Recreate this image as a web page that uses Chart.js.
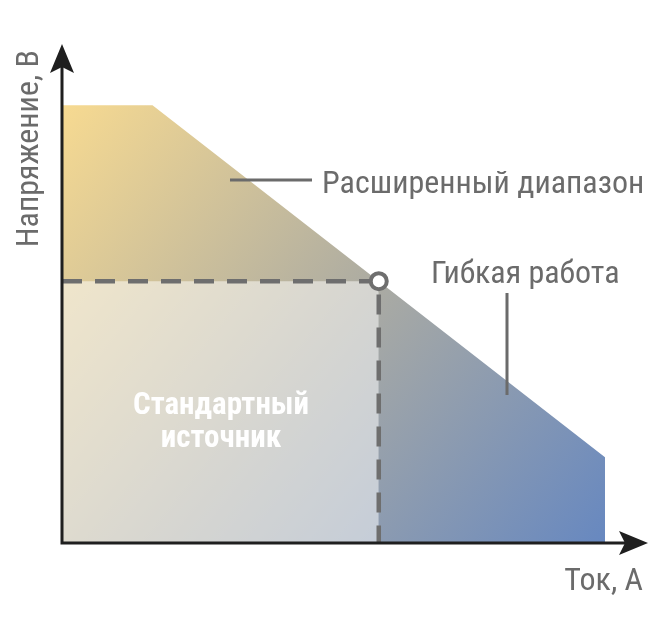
<!DOCTYPE html>
<html>
<head>
<meta charset="utf-8">
<script src="https://cdn.jsdelivr.net/npm/chart.js@4.4.0/dist/chart.umd.min.js"></script>
<style>
  html, body { margin: 0; padding: 0; background: #fff; }
  #wrap { width: 660px; height: 636px; }
</style>
</head>
<body>
<div id="wrap"><canvas id="chart"></canvas></div>
<script>
// envelope of the supply: current (A) vs voltage (V)
const currentPts = [0, 2, 7, 12];
const voltagePts = [9.95, 9.95, 5.95, 1.95];
// standard source corner
const stdCurrent = 7;
const stdVoltage = 5.95;
const axisMax = { x: 12.95, y: 11.34 };

const labels = {
  yTitle: "Напряжение, В",
  xTitle: "Ток, А",
  extended: "Расширенный диапазон",
  flexible: "Гибкая работа",
  standard: ["Стандартный", "источник"]
};

const FONT = "'Liberation Sans Narrow', 'Roboto Condensed', 'DejaVu Sans Condensed', Roboto, sans-serif";
const textGray = "#6b6b6b";
const dashGray = "#6e6e6e";

const envelope = currentPts.map((x, i) => ({ x: x, y: voltagePts[i] }));

function envelopeGradient(context) {
  const chart = context.chart;
  const xs = chart.scales.x, ys = chart.scales.y;
  if (!chart.chartArea) return "#ccc";
  const g = chart.ctx.createLinearGradient(
    xs.getPixelForValue(0), ys.getPixelForValue(voltagePts[0]),
    xs.getPixelForValue(currentPts[currentPts.length - 1]), ys.getPixelForValue(0)
  );
  g.addColorStop(0, "#f7da91");
  g.addColorStop(0.5, "#adaca2");
  g.addColorStop(1, "#6788c0");
  return g;
}

const decorPlugin = {
  id: "decor",
  afterDatasetsDraw(chart) {
    const ctx = chart.ctx;
    const xs = chart.scales.x, ys = chart.scales.y;
    const x0 = xs.getPixelForValue(0), y0 = ys.getPixelForValue(0);
    const xEnd = chart.chartArea.right, yEnd = chart.chartArea.top;

    ctx.save();
    // axes
    ctx.strokeStyle = "#1f1f1f";
    ctx.fillStyle = "#1f1f1f";
    ctx.lineWidth = 3;
    ctx.beginPath();
    ctx.moveTo(x0, y0 + 1.5);
    ctx.lineTo(x0, yEnd + 20);
    ctx.moveTo(x0 - 1.5, y0);
    ctx.lineTo(xEnd - 20, y0);
    ctx.stroke();
    // arrow heads
    ctx.beginPath();
    ctx.moveTo(x0, yEnd);
    ctx.lineTo(x0 + 12, yEnd + 29);
    ctx.lineTo(x0, yEnd + 23);
    ctx.lineTo(x0 - 12, yEnd + 29);
    ctx.closePath();
    ctx.fill();
    ctx.beginPath();
    ctx.moveTo(xEnd, y0);
    ctx.lineTo(xEnd - 29, y0 - 12);
    ctx.lineTo(xEnd - 23, y0);
    ctx.lineTo(xEnd - 29, y0 + 12);
    ctx.closePath();
    ctx.fill();

    // leader lines
    ctx.strokeStyle = textGray;
    ctx.lineWidth = 3;
    ctx.beginPath();
    ctx.moveTo(230, 180);
    ctx.lineTo(312, 180);
    ctx.moveTo(507, 293);
    ctx.lineTo(507, 395);
    ctx.stroke();

    // texts
    ctx.fillStyle = textGray;
    ctx.font = "32px " + FONT;
    ctx.textBaseline = "alphabetic";
    ctx.textAlign = "left";
    ctx.fillText(labels.extended, 322, 193);
    ctx.fillText(labels.flexible, 431, 283);
    ctx.textAlign = "right";
    ctx.fillText(labels.xTitle, 643, 590);

    ctx.save();
    ctx.translate(38, 50);
    ctx.rotate(-Math.PI / 2);
    ctx.textAlign = "right";
    ctx.fillText(labels.yTitle, 0, 0);
    ctx.restore();

    ctx.fillStyle = "#ffffff";
    ctx.font = "bold 31px " + FONT;
    ctx.textAlign = "center";
    ctx.fillText(labels.standard[0], 221, 414);
    ctx.fillText(labels.standard[1], 221, 447);
    ctx.restore();
  }
};

new Chart(document.getElementById("chart"), {
  type: "scatter",
  data: {
    datasets: [
      {
        label: "corner",
        data: [{ x: stdCurrent, y: stdVoltage }],
        pointRadius: 8,
        pointBackgroundColor: "#ffffff",
        pointBorderColor: dashGray,
        pointBorderWidth: 4,
        order: 0
      },
      {
        label: "standard edge",
        data: [{ x: 0, y: stdVoltage }, { x: stdCurrent, y: stdVoltage }, { x: stdCurrent, y: 0 }],
        showLine: true,
        borderColor: dashGray,
        borderWidth: 4.5,
        borderDash: [20, 13],
        pointRadius: 0,
        fill: false,
        order: 1
      },
      {
        label: "standard",
        data: [{ x: 0, y: stdVoltage }, { x: stdCurrent, y: stdVoltage }],
        showLine: true,
        borderWidth: 0,
        pointRadius: 0,
        fill: "origin",
        backgroundColor: "rgba(255,255,255,0.5)",
        order: 2
      },
      {
        label: "extended",
        data: envelope,
        showLine: true,
        borderWidth: 0,
        pointRadius: 0,
        fill: "origin",
        backgroundColor: envelopeGradient,
        order: 3
      }
    ]
  },
  options: {
    responsive: true,
    maintainAspectRatio: false,
    animation: false,
    events: [],
    layout: { padding: { left: 62, right: 12, top: 44, bottom: 93 } },
    plugins: { legend: { display: false }, tooltip: { enabled: false } },
    scales: {
      x: { type: "linear", min: 0, max: axisMax.x, display: false },
      y: { type: "linear", min: 0, max: axisMax.y, display: false }
    }
  },
  plugins: [decorPlugin]
});
</script>
</body>
</html>
